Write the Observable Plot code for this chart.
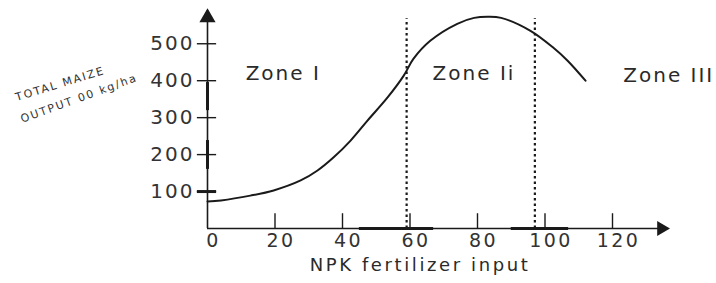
<!DOCTYPE html>
<html><head><meta charset="utf-8">
<script src="https://cdn.jsdelivr.net/npm/d3@7"></script>
<script src="https://cdn.jsdelivr.net/npm/@observablehq/plot@0.6"></script>
<style>
body{margin:0;background:#fff;}
svg text{font-family:"DejaVu Sans",sans-serif;}
g[aria-label="x-axis tick label"] text{letter-spacing:2.5px;}
g[aria-label="y-axis tick label"] text{letter-spacing:2px;}
</style></head><body><div id="chart"></div>
<script>
// NPK input (x) and total maize output (y)
const npkInput    = [0, 4, 12.7, 19.6, 27.6, 32.6, 37.3, 42.4, 47.4, 53.3, 58.1, 61, 66, 74, 79, 83, 87, 95.7, 102.5, 106.7, 112];
const maizeOutput = [73, 76, 89, 103, 130, 157, 192, 238, 292, 354, 413, 459, 508, 554, 570, 573, 570, 535, 489, 454, 400];
const xTicks = [0, 20, 40, 60, 80, 100, 120];
const yTicks = [100, 200, 300, 400, 500];
const zoneNames = ["Zone I", "Zone Ii", "Zone III"];
const zoneX = [11.3, 66.7, 123.2];
const zoneY = [419, 419, 414];
const zoneBounds = [59, 97];
const boldXStart = [45, 90];
const boldXEnd = [67, 107];
const boldYStart = [319, 160];
const boldYEnd = [395, 238];
const yLabelLines = ["TOTAL MAIZE", "OUTPUT 00 kg/ha"];
const xLabel = "NPK fertilizer input";

const curve = npkInput.map((x, i) => ({x, y: maizeOutput[i]}));
const zones = zoneNames.map((name, i) => ({name, x: zoneX[i], y: zoneY[i]}));
const boldX = boldXStart.map((s, i) => ({s, e: boldXEnd[i]}));
const boldY = boldYStart.map((s, i) => ({s, e: boldYEnd[i]}));

const ink = "#1a1a1a";
const chart = Plot.plot({
  width: 716, height: 283,
  marginLeft: 207, marginRight: 50, marginTop: 10, marginBottom: 55,
  x: {domain: [0, 136]},
  y: {domain: [0, 590]},
  style: {fontFamily: "DejaVu Sans", color: ink, background: "#fff"},
  marks: [
    Plot.axisX(xTicks, {tickSize: 0, tickPadding: 5, fontSize: 19, dx: 6, label: null, fill: "#333"}),
    Plot.axisY(yTicks, {tickSize: 0, tickPadding: 13, fontSize: 20, label: null, fill: "#333"}),
    // axes lines
    Plot.ruleY([0], {stroke: ink, strokeWidth: 1.6}),
    Plot.ruleX([0], {stroke: ink, strokeWidth: 1.6}),
    Plot.dot([{x: 0, y: 571}], {x: "x", y: "y", symbol: "triangle", r: 6, fill: ink, stroke: null}),
    Plot.dot([{x: 134.5, y: 0}], {x: "x", y: "y", symbol: "triangle", r: 5.5, rotate: 90, fill: ink, stroke: null}),
    // ticks
    Plot.ruleX(xTicks.slice(1), {x: d => d, y1: 0, y2: 40, stroke: ink, strokeWidth: 1.4}),
    Plot.ruleY(yTicks, {y: d => d, x1: -3, x2: 2.7, stroke: ink, strokeWidth: 1.4}),
    Plot.ruleY([100], {y: d => d, x1: -3, x2: 2.7, stroke: ink, strokeWidth: 3}),
    // thicker scan segments on axes
    Plot.ruleY(boldX, {y: 0, x1: "s", x2: "e", stroke: ink, strokeWidth: 3.2}),
    Plot.ruleX(boldY, {x: 0, y1: "s", y2: "e", stroke: ink, strokeWidth: 3}),
    // zone boundaries
    Plot.ruleX(zoneBounds, {x: d => d, y1: 0, y2: 568, stroke: ink, strokeWidth: 2.2, strokeDasharray: "2.5 3"}),
    // production curve
    Plot.line(curve, {x: "x", y: "y", curve: "catmull-rom", stroke: ink, strokeWidth: 2}),
    // zone labels
    Plot.text(zones, {x: "x", y: "y", text: "name", textAnchor: "start", fontSize: 20, fill: "#2a2a2a"}),
    // axis titles
    Plot.text([xLabel], {text: d => d, frameAnchor: "bottom", dx: -17, dy: 42, fontSize: 18, fill: "#2a2a2a"}),
    Plot.text([yLabelLines[0]], {text: d => d, frameAnchor: "top-left", dx: -193, dy: 83, rotate: -17, textAnchor: "start", fontSize: 11, fill: "#333"}),
    Plot.text([yLabelLines[1]], {text: d => d, frameAnchor: "top-left", dx: -188, dy: 105, rotate: -20, textAnchor: "start", fontSize: 11, fill: "#333"})
  ]
});
// letter-spacing to mimic the horizontally stretched lettering of the scan
const spacing = ["2px", "2.6px", "1.8px", "1.8px"];
d3.select(chart).selectAll('g[aria-label="text"]').each(function(_, i) {
  d3.select(this).style("letter-spacing", spacing[i]);
});
document.getElementById("chart").appendChild(chart);
</script>
</body></html>
